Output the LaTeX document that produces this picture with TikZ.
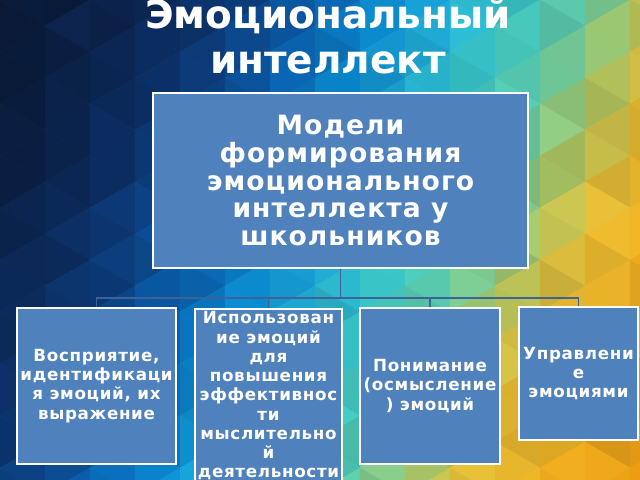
\documentclass[tikz,border=0pt]{standalone}
\usepackage{fontspec}
\setmainfont{DejaVu Sans}
\newfontfamily\boxfont{DejaVu Sans}[LetterSpace=4]
\usetikzlibrary{positioning}

\definecolor{boxblue}{HTML}{4F81BD}
\definecolor{linkblue}{HTML}{3E6298}
% background colour stops, from left top to right bottom
\definecolor{bg0}{HTML}{081630}
\definecolor{bg1}{HTML}{0A1D40}
\definecolor{bg2}{HTML}{0B2550}
\definecolor{bg3}{HTML}{0C3068}
\definecolor{bg4}{HTML}{0C4488}
\definecolor{bg5}{HTML}{0A64B4}
\definecolor{bg6}{HTML}{0A8CD4}
\definecolor{bg7}{HTML}{20B0DC}
\definecolor{bg8}{HTML}{3CCCCC}
\definecolor{bg9}{HTML}{60D0B0}
\definecolor{bg10}{HTML}{B0CC68}
\definecolor{bg11}{HTML}{EEC034}
\definecolor{bg12}{HTML}{F2B424}
\definecolor{bg13}{HTML}{EEA418}
\definecolor{bg14}{HTML}{EC9A10}

% colour of one facet: #1 position along the gradient, #2 shade step
\newcommand\facetcolor[2]{%
  \pgfmathsetmacro\fcT{min(max(#1,0),13.99)}%
  \pgfmathtruncatemacro\fcK{\fcT}%
  \pgfmathtruncatemacro\fcKK{\fcK+1}%
  \pgfmathtruncatemacro\fcP{100-100*(\fcT-\fcK)}%
  \pgfmathtruncatemacro\fcS{100-2.5*(#2)}%
  \colorlet{facet}{bg\fcK!\fcP!bg\fcKK}%
  \colorlet{facet}{facet!\fcS!black}%
}

\begin{document}
\begin{tikzpicture}
    [x=0.025cm, y=-0.025cm,
    modelbox/.style={draw=white, line width=1.2pt, fill=boxblue, text=white, align=center, inner sep=0pt},
    topbox/.style={modelbox, minimum width=9.375cm, minimum height=4.375cm,
        font=\boxfont\bfseries\fontsize{18.9}{19.9}\selectfont},
    subbox/.style={modelbox, font=\boxfont\bfseries\fontsize{11.9}{13.7}\selectfont},
    link/.style={draw=linkblue, line width=1.4pt},
    titletext/.style={text=white, align=center, inner sep=0pt,
        font=\bfseries\fontsize{27.7}{32}\selectfont}]

    \useasboundingbox (0,0) rectangle (640,480);

    % --- mosaic background ---
    \begin{scope}
        \clip (0,0) rectangle (640,480);
        \foreach \i in {0,...,14}{
            \foreach \j in {-1,...,9}{
                \pgfmathsetmacro\ya{mod(\i,2)*26+\j*52}
                % facet pointing right
                \pgfmathsetmacro\tpos{(\i*45+15)/64+(\ya+26)/480*3.5}
                \facetcolor{\tpos}{mod(7*\i+3*\j,5)}
                \path[fill=facet, draw=facet, line width=0.3pt]
                    (\i*45,\ya) -- (\i*45,\ya+52) -- (\i*45+45,\ya+26) -- cycle;
                % facet pointing left
                \pgfmathsetmacro\tpos{(\i*45+30)/64+(\ya+52)/480*3.5}
                \facetcolor{\tpos}{mod(5*\i+11*\j+2,5)}
                \path[fill=facet, draw=facet, line width=0.3pt]
                    (\i*45+45,\ya+26) -- (\i*45+45,\ya+78) -- (\i*45,\ya+52) -- cycle;
            }
        }
    \end{scope}

    % --- title ---
    \node[titletext, anchor=base] (title) at (328,73) {Эмоциональный\\интеллект};

    % --- boxes ---
    \node[topbox] (models) at (340.5,180.5)
        {Модели\\формирования\\эмоционального\\интеллекта у\\школьников};

    \node[subbox, minimum width=3.975cm, minimum height=3.9cm] (perceive) at (96.5,386)
        {Восприятие,\\идентификаци\\я эмоций, их\\выражение};
    \node[subbox, minimum width=3.675cm, inner ysep=2pt, anchor=north] (use) at (268.5,308)
        {Использован\\ие эмоций\\для\\повышения\\эффективнос\\ти\\мыслительно\\й\\деятельности};
    \node[subbox, minimum width=3.5cm, minimum height=3.9cm] (understand) at (430,386)
        {Понимание\\(осмысление\\) эмоций};
    \node[subbox, minimum width=2.975cm, minimum height=3.325cm] (manage) at (578.5,373.5)
        {Управлени\\е\\эмоциями};

    % --- connectors ---
    \coordinate (fork) at (340.5,298);
    \draw[link] (models.south) -- (fork);
    \foreach \n in {perceive,use,understand,manage}
        \draw[link] (fork) -| (\n.north);
\end{tikzpicture}
\end{document}
